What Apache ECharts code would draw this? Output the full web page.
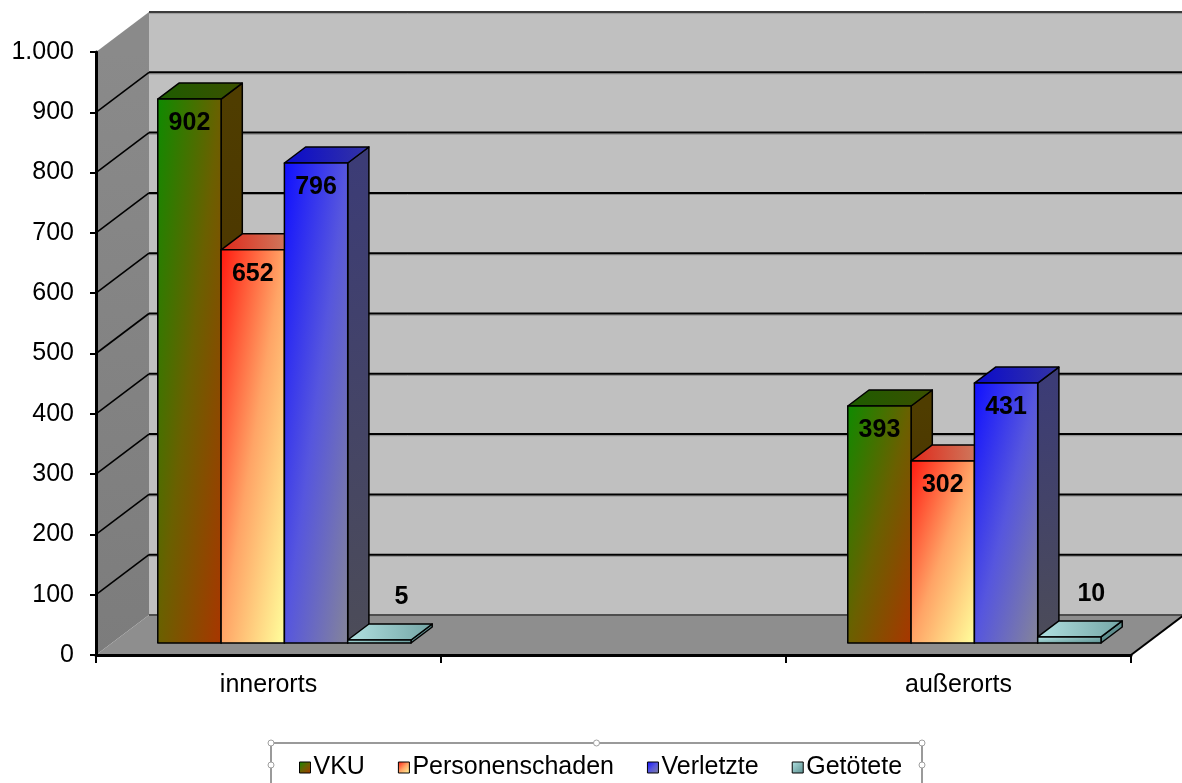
<!DOCTYPE html>
<html>
<head>
<meta charset="utf-8">
<script src="https://cdn.jsdelivr.net/npm/echarts@6/dist/echarts.min.js"></script>
<style>
  html, body { margin: 0; padding: 0; background: #ffffff; }
  #chart { width: 1182px; height: 783px; }
</style>
</head>
<body>
<div id="chart"></div>
<script>
// Unfallstatistik: innerorts / außerorts
const categories = ['innerorts', '', 'außerorts'];
const seriesNames = ['VKU', 'Personenschaden', 'Verletzte', 'Getötete'];
const vku = [902, null, 393];
const personenschaden = [652, null, 302];
const verletzte = [796, null, 431];
const getoetete = [5, null, 10];
const seriesValues = [vku, personenschaden, verletzte, getoetete];

const valueMin = 0;
const valueMax = 1000;
const valueStep = 100;

// 3D look: offset of the back plane relative to the front plane (px)
const FONT = '"Liberation Sans", Arial, Helvetica, sans-serif';
const DEPTH_X = 53;
const DEPTH_Y = -40;
const BAR_FRONT = 0.3;   // depth fraction where bar front faces sit
const BAR_BACK = 0.7;    // depth fraction of bar back faces
const GROUP_SHARE = 0.734; // share of a category band used by the bar group

const palettes = [
  { front: ['#0f8a00', '#6a6000', '#a83600'], top: ['#1d5c00', '#3b5000'], side: ['#4f3d00', '#472c00'] },
  { front: ['#ff1a10', '#ffa466', '#ffff9c'], top: ['#e0281a', '#c99070'], side: ['#c05a30', '#c08040'] },
  { front: ['#1010ff', '#5656de', '#84849a'], top: ['#0a0acc', '#3434a4'], side: ['#3c3c76', '#4c4c58'] },
  { front: ['#b4e4e4', '#86b8b8', '#5a8e8e'], top: ['#b0e0e0', '#74a6a6'], side: ['#5e8e8e', '#4e7e7e'] }
];

function stopsOf(colors) {
  return colors.map((c, i) => ({ offset: i / (colors.length - 1), color: c }));
}

// Diagonal gradient whose colour bands run corner to corner of the face
function diagGradient(x, y, w, h, colors) {
  const a = 1 / Math.max(w, 0.5), b = 1 / Math.max(h, 0.5);
  const k = 2 / (a * a + b * b);
  return new echarts.graphic.LinearGradient(x, y, x + k * a, y + k * b, stopsOf(colors), true);
}

function legendGradient(colors) {
  return new echarts.graphic.LinearGradient(0, 0, 1, 1, stopsOf(colors));
}

function formatThousands(v) {
  return String(v).replace(/\B(?=(\d{3})+(?!\d))/g, '.');
}

function barRenderer(s) {
  return function (params, api) {
    const v = api.value(1);
    if (v == null || isNaN(v)) return null;
    const c = api.value(0);
    const band = api.size([1, 0])[0];
    const base = api.coord([c, valueMin]);
    const top = api.coord([c, v]);
    const w = band * GROUP_SHARE / seriesNames.length;
    const x0 = base[0] - band * GROUP_SHARE / 2 + s * w + DEPTH_X * BAR_FRONT;
    const x1 = x0 + w;
    const yb = base[1] + DEPTH_Y * BAR_FRONT;
    const yt = top[1] + DEPTH_Y * BAR_FRONT;
    const dx = DEPTH_X * (BAR_BACK - BAR_FRONT);
    const dy = DEPTH_Y * (BAR_BACK - BAR_FRONT);
    const p = palettes[s];
    const edge = { stroke: '#000000', lineWidth: 1.5, lineJoin: 'round' };
    const children = [
      {
        type: 'polygon',
        shape: { points: [[x1, yt], [x1 + dx, yt + dy], [x1 + dx, yb + dy], [x1, yb]] },
        style: Object.assign({ fill: new echarts.graphic.LinearGradient(x1, yt, x1, yb, stopsOf(p.side), true) }, edge)
      },
      {
        type: 'polygon',
        shape: { points: [[x0, yt], [x1, yt], [x1 + dx, yt + dy], [x0 + dx, yt + dy]] },
        style: Object.assign({ fill: new echarts.graphic.LinearGradient(x0, yt, x1 + dx, yt, stopsOf(p.top), true) }, edge)
      },
      {
        type: 'rect',
        shape: { x: x0, y: yt, width: w, height: yb - yt },
        style: Object.assign({ fill: diagGradient(x0, yt, w, yb - yt, p.front) }, edge)
      }
    ];
    const inside = (yb - yt) > 40;
    children.push({
      type: 'text',
      style: {
        text: String(v),
        x: inside ? (x0 + x1) / 2 : (x0 + x1) / 2 + 22,
        y: inside ? yt + 24 : yt - 43,
        fill: '#000000',
        fontFamily: FONT,
        fontSize: 25,
        fontWeight: 'bold',
        align: 'center',
        verticalAlign: 'middle'
      }
    });
    return { type: 'group', children: children };
  };
}

// Back wall, side wall, floor and the gridlines on them
function renderWalls(params, api) {
  const cs = params.coordSys;
  const L = cs.x, R = cs.x + cs.width;
  const yOf = (v) => api.coord([0, v])[1];
  const y0 = yOf(valueMin), y1 = yOf(valueMax);
  const DX = DEPTH_X, DY = DEPTH_Y;
  const kids = [];
  kids.push({
    type: 'rect',
    shape: { x: L + DX, y: y1 + DY, width: R - L, height: y0 - y1 },
    style: { fill: '#c0c0c0' }
  });
  kids.push({
    type: 'polygon',
    shape: { points: [[L, y1], [L + DX, y1 + DY], [L + DX, y0 + DY], [L, y0]] },
    style: { fill: new echarts.graphic.LinearGradient(L, y1, L, y0, [
      { offset: 0, color: '#8a8a8a' }, { offset: 1, color: '#7c7c7c' }], true) }
  });
  kids.push({
    type: 'polygon',
    shape: { points: [[L, y0], [L + DX, y0 + DY], [R + DX, y0 + DY], [R, y0]] },
    style: { fill: '#8e8e8e' }
  });
  for (let v = valueMin + valueStep; v < valueMax; v += valueStep) {
    const yf = yOf(v), yb = yf + DY;
    kids.push({ type: 'line', shape: { x1: L + DX, y1: yb + 1.6, x2: R + DX, y2: yb + 1.6 },
      style: { stroke: '#8a8a8a', lineWidth: 1 } });
    kids.push({ type: 'line', shape: { x1: L + DX, y1: yb, x2: R + DX, y2: yb },
      style: { stroke: '#000000', lineWidth: 2 } });
    kids.push({ type: 'line', shape: { x1: L, y1: yf, x2: L + DX, y2: yb },
      style: { stroke: '#000000', lineWidth: 1.6 } });
  }
  kids.push({ type: 'line', shape: { x1: L + DX, y1: y1 + DY + 1.6, x2: R + DX, y2: y1 + DY + 1.6 },
    style: { stroke: '#9a9a9a', lineWidth: 1 } });
  kids.push({ type: 'line', shape: { x1: L + DX, y1: y1 + DY, x2: R + DX, y2: y1 + DY },
    style: { stroke: '#3c3c3c', lineWidth: 2 } });
  kids.push({ type: 'line', shape: { x1: L + DX, y1: y0 + DY, x2: R + DX, y2: y0 + DY },
    style: { stroke: '#4e4e4e', lineWidth: 2 } });
  kids.push({ type: 'line', shape: { x1: R, y1: y0, x2: R + DX, y2: y0 + DY },
    style: { stroke: '#000000', lineWidth: 2 } });
  return { type: 'group', children: kids };
}

const chart = echarts.init(document.getElementById('chart'), null, { renderer: 'canvas' });

const barSeries = seriesNames.map((name, s) => ({
  name: name,
  type: 'custom',
  z: 3,
  clip: false,
  silent: true,
  itemStyle: { color: legendGradient(palettes[s].front) },
  renderItem: barRenderer(s),
  encode: { x: 0, y: 1 },
  data: seriesValues[s].map((v, i) => [i, v])
}));

const legendBox = { left: 271, top: 743, width: 651, height: 60 };
const handles = [
  [legendBox.left, legendBox.top], [legendBox.left + legendBox.width / 2, legendBox.top],
  [legendBox.left + legendBox.width, legendBox.top],
  [legendBox.left, legendBox.top + 22], [legendBox.left + legendBox.width, legendBox.top + 22]
];

chart.setOption({
  animation: false,
  backgroundColor: '#ffffff',
  textStyle: { fontFamily: FONT },
  grid: { left: 96, right: 51, top: 52, bottom: 128, containLabel: false },
  xAxis: {
    type: 'category',
    data: categories,
    boundaryGap: true,
    axisLine: { show: true, lineStyle: { color: '#000000', width: 3 } },
    axisTick: { show: true, interval: 0, length: 8, inside: false, lineStyle: { color: '#000000', width: 2 } },
    axisLabel: { interval: 0, margin: 18, color: '#000000', fontSize: 25, fontFamily: FONT },
    splitLine: { show: false }
  },
  yAxis: {
    type: 'value',
    min: valueMin,
    max: valueMax,
    interval: valueStep,
    axisLine: { show: true, lineStyle: { color: '#000000', width: 3 } },
    axisTick: { show: true, length: 6, inside: false, lineStyle: { color: '#000000', width: 2 } },
    axisLabel: { margin: 22, color: '#000000', fontSize: 25, fontFamily: FONT, formatter: formatThousands },
    splitLine: { show: false }
  },
  legend: {
    data: seriesNames,
    left: 299,
    top: 755,
    padding: 0,
    orient: 'horizontal',
    icon: 'rect',
    itemWidth: 11,
    itemHeight: 11,
    itemGap: 33,
    selectedMode: false,
    itemStyle: { borderColor: '#000000', borderWidth: 1 },
    textStyle: { color: '#000000', fontSize: 25, fontFamily: FONT, padding: [0, 0, 0, -2] }
  },
  graphic: [
    {
      type: 'rect',
      z: 1,
      shape: { x: legendBox.left, y: legendBox.top, width: legendBox.width, height: legendBox.height },
      style: { fill: '#ffffff', stroke: '#7a7a7a', lineWidth: 1.5 }
    }
  ].concat(handles.map((h) => ({
    type: 'circle',
    z: 2,
    shape: { cx: h[0], cy: h[1], r: 3 },
    style: { fill: '#ffffff', stroke: '#a0a0a0', lineWidth: 1 }
  }))),
  series: [
    {
      name: 'walls',
      type: 'custom',
      z: -1,
      clip: false,
      silent: true,
      renderItem: renderWalls,
      encode: { x: 0, y: 1 },
      data: [[0, valueMin]]
    }
  ].concat(barSeries)
});
</script>
</body>
</html>
